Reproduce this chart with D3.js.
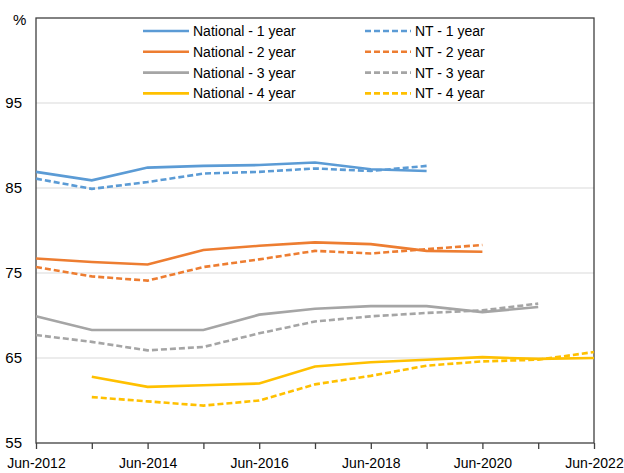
<!DOCTYPE html>
<html>
<head>
<meta charset="utf-8">
<script src="https://d3js.org/d3.v7.min.js"></script>
<style>
  body { margin: 0; background: #fff; font-family: "Liberation Sans", Arial, sans-serif; }
  .tick text { font-size: 15px; fill: #000; }
  .x-axis .tick text { font-size: 14px; }
</style>
</head>
<body>
<div id="chart"></div>
<script>
// years (June of each year) on the category axis
const years = [2012, 2013, 2014, 2015, 2016, 2017, 2018, 2019, 2020, 2021, 2022];
const tickLabels = ["Jun-2012", "Jun-2014", "Jun-2016", "Jun-2018", "Jun-2020", "Jun-2022"];
const yTicks = [55, 65, 75, 85, 95];

// null = no value for that year
const national1 = [86.9, 85.9, 87.4, 87.6, 87.7, 88.0, 87.2, 87.0, null, null, null];
const nt1       = [86.1, 84.9, 85.7, 86.7, 86.9, 87.3, 87.0, 87.6, null, null, null];
const national2 = [76.7, 76.3, 76.0, 77.7, 78.2, 78.6, 78.4, 77.6, 77.5, null, null];
const nt2       = [75.7, 74.6, 74.1, 75.7, 76.6, 77.6, 77.3, 77.8, 78.3, null, null];
const national3 = [69.9, 68.3, 68.3, 68.3, 70.1, 70.8, 71.1, 71.1, 70.4, 71.0, null];
const nt3       = [67.7, 66.9, 65.9, 66.3, 67.9, 69.3, 69.9, 70.3, 70.6, 71.4, null];
const national4 = [null, 62.8, 61.6, 61.8, 62.0, 64.0, 64.5, 64.8, 65.1, 64.9, 65.0];
const nt4       = [null, 60.4, 59.9, 59.4, 60.0, 61.9, 62.9, 64.1, 64.6, 64.8, 65.7];

const series = [
  {name: "National - 1 year", values: national1, color: "#5B9BD5", dash: null},
  {name: "National - 2 year", values: national2, color: "#ED7D31", dash: null},
  {name: "National - 3 year", values: national3, color: "#A5A5A5", dash: null},
  {name: "National - 4 year", values: national4, color: "#FFC000", dash: null},
  {name: "NT - 1 year", values: nt1, color: "#5B9BD5", dash: "6,3"},
  {name: "NT - 2 year", values: nt2, color: "#ED7D31", dash: "6,3"},
  {name: "NT - 3 year", values: nt3, color: "#A5A5A5", dash: "6,3"},
  {name: "NT - 4 year", values: nt4, color: "#FFC000", dash: "6,3"}
];

const width = 624, height = 473;
const margin = {top: 18, right: 30, bottom: 30, left: 36};
const innerW = width - margin.left - margin.right;
const innerH = height - margin.top - margin.bottom;

const svg = d3.select("#chart").append("svg")
  .attr("width", width)
  .attr("height", height);

const g = svg.append("g").attr("transform", `translate(${margin.left},${margin.top})`);

const x = d3.scaleLinear().domain([2012, 2022]).range([0, innerW]);
const y = d3.scaleLinear().domain([55, 105]).range([innerH, 0]);

// gridlines
g.selectAll(".grid")
  .data(yTicks.filter(d => d > 55))
  .enter().append("line")
  .attr("x1", 0).attr("x2", innerW)
  .attr("y1", d => y(d)).attr("y2", d => y(d))
  .attr("stroke", "#d9d9d9").attr("stroke-width", 1);

// frame
g.append("rect")
  .attr("width", innerW).attr("height", innerH)
  .attr("fill", "none").attr("stroke", "#404040").attr("stroke-width", 1.3);

// y axis labels
const yAxis = g.append("g")
  .call(d3.axisLeft(y).tickValues(yTicks).tickSize(0).tickPadding(14));
yAxis.select(".domain").remove();

svg.append("text")
  .attr("x", 13).attr("y", 25)
  .attr("font-size", 15)
  .text("%");

// x axis: tick marks every year, labels every two years
const xAxis = g.append("g")
  .attr("class", "x-axis")
  .attr("transform", `translate(0,${innerH})`)
  .call(d3.axisBottom(x).tickValues(years).tickSize(6).tickPadding(9)
    .tickFormat(d => tickLabels.includes("Jun-" + d) ? "Jun-" + d : ""));
xAxis.select(".domain").remove();
xAxis.selectAll(".tick line").attr("stroke", "#404040").attr("stroke-width", 1.3);

// lines
const line = d3.line()
  .defined(d => d.v !== null)
  .x(d => x(d.year))
  .y(d => y(d.v));

g.selectAll(".series")
  .data(series)
  .enter().append("path")
  .attr("fill", "none")
  .attr("stroke", d => d.color)
  .attr("stroke-width", 2.6)
  .attr("stroke-dasharray", d => d.dash)
  .attr("d", d => line(d.values.map((v, i) => ({year: years[i], v: v}))));

// legend
const legend = svg.append("g");
const items = legend.selectAll("g")
  .data(series)
  .enter().append("g")
  .attr("transform", (d, i) => {
    const col = i < 4 ? 0 : 1;
    const row = i % 4;
    return `translate(${143 + col * 222},${31 + row * 20.8})`;
  });
items.append("line")
  .attr("x1", 0).attr("x2", 46)
  .attr("stroke", d => d.color)
  .attr("stroke-width", 2.6)
  .attr("stroke-dasharray", d => d.dash);
items.append("text")
  .attr("x", 50).attr("y", 5)
  .attr("font-size", 14)
  .text(d => d.name);
</script>
</body>
</html>
